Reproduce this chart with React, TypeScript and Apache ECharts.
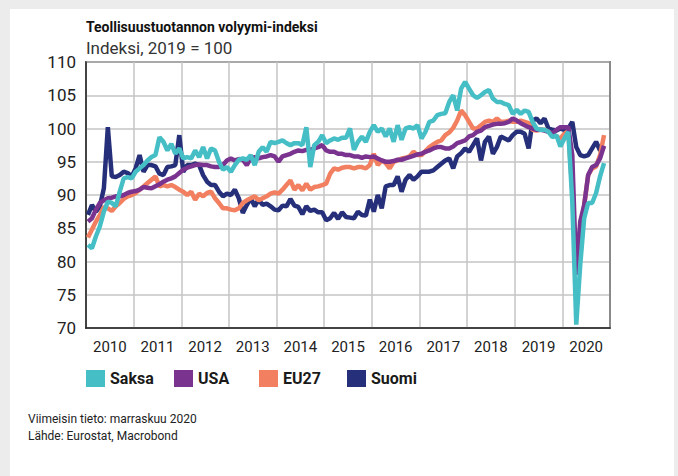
import React, { useEffect, useRef } from "react";
import * as echarts from "echarts";

const yearLabels = ["2010", "2011", "2012", "2013", "2014", "2015", "2016", "2017", "2018", "2019", "2020"];
const seriesNames = ["Saksa", "USA", "EU27", "Suomi"];

// Monthly index values, Jan 2010 .. Nov 2020 (2019 = 100)
const saksa = [
  82.5, 82, 83.8, 85.3, 87.5, 89, 88.8, 88.3, 90.5, 92.5, 92.7, 92.5,
  93.5, 94, 94.5, 95.2, 95.7, 96, 98.7, 98, 96.7, 97.7, 96.2, 97,
  95.5, 95.7, 95.5, 96.7, 95.7, 97.2, 95.5, 97, 96.7, 95, 93.8, 94.2,
  93.5, 94.5, 95.3, 95.5, 95.3, 96, 94.5, 96.5, 97.2, 96.5, 98, 97.8,
  98, 98.2, 97.8, 97.5, 97.8, 97.8, 97.5, 100.2, 94.2, 97.5, 98, 99,
  97.8, 98.2, 98.5, 98.3, 98.6, 98.6, 100, 96.8, 98, 98.8, 98, 99.5,
  100.5, 99.5, 100, 98.8, 100, 98, 100.5, 98.3, 100, 100.2, 100, 100.5,
  98.5, 99.5, 101, 101.2, 102, 102.2, 102.3, 104, 105, 102.7, 106, 107,
  106, 105, 104.6, 105, 105.5, 105.8, 104.5, 104, 104, 103.7, 103.5, 102.2,
  102.8, 102.2, 102.7, 102.5, 101, 100, 99.8, 99.8, 99.5, 98.7, 99, 97.3,
  98.5, 99.5, 89, 70.5, 79.5, 86.5, 88.8, 88.8, 90.3, 92.8, 94.8,
];

const usa = [
  86, 86.5, 87.8, 88.8, 89.2, 89.5, 89.6, 89.8, 89.8, 90, 90.3, 90.5,
  90.6, 90.8, 91.2, 91.1, 91, 91.3, 91.6, 92, 92.3, 92.5, 92.8, 93.3,
  93.8, 94.1, 94.3, 94.5, 94.6, 94.5, 94.5, 94.3, 94.2, 94.2, 94.5, 95.2,
  95.5, 95.2, 95.4, 95.3, 94.5, 95.5, 95.7, 95.5, 95.7, 95.8, 96, 95.8,
  95, 95.8, 96, 96.2, 96.5, 96.7, 96.6, 96.8, 96.8, 97, 97.2, 97.5,
  96.7, 96.5, 96.5, 96.2, 96.2, 96, 96, 95.8, 95.8, 95.6, 95.8, 95.7,
  95.8, 95.5, 95.2, 95, 95, 95.1, 95.3, 95.3, 95.5, 95.7, 95.9, 96.1,
  96.2, 96.5, 96.7, 97, 97.2, 97.2, 97, 97, 97.3, 97.8, 98, 98.2,
  98.8, 99, 99.5, 99.7, 100.2, 100.4, 100.6, 100.7, 100.7, 100.8, 101, 101.5,
  101.2, 100.8, 100.5, 100.2, 100, 99.8, 99.8, 99.7, 99.5, 99.2, 99.8, 100.2,
  100.2, 100.2, 96, 78, 86, 88.5, 93, 94.2, 94.5, 95.5, 97.4,
];

const eu27 = [
  83.6, 84.8, 86, 87, 88.2, 88, 87.6, 88.3, 88.8, 89.4, 89.8, 90,
  90.3, 90.8, 91.3, 91.8, 92.3, 92.8, 91.3, 91.5, 91.3, 91.5, 91.2, 90.8,
  90.5, 90, 90.5, 89.3, 90.2, 89.8, 90.3, 90.5, 89.5, 88.8, 88, 88,
  87.8, 87.7, 88, 88.8, 89.2, 89.5, 89.8, 89.2, 89.5, 89.8, 90.2, 90.4,
  90.2, 90.8, 91.5, 92.2, 90.8, 91.5, 90.7, 91.7, 90.8, 91.2, 91.3, 91.5,
  91.7, 93.2, 94, 93.8, 94.1, 94.2, 94.2, 94, 94.2, 94.2, 94, 94.5,
  96.2, 94.5, 95.2, 94.8, 94, 95, 95.2, 95.5, 95.6, 95.8, 96.5, 96,
  96, 96.6, 97.2, 97.6, 98, 98.2, 99, 99.4, 100.1, 101.2, 102.7, 102,
  101, 100, 100, 100.5, 101, 101.2, 101, 101.5, 101, 101, 101.2, 101,
  101, 101.2, 101, 100.8, 99.8, 99.7, 99.8, 99.8, 99.5, 99.2, 98.8, 98.5,
  99.2, 99.6, 90.5, 78.8, 83, 88.5, 93, 94, 94.3, 96, 99,
];

const suomi = [
  87, 88.5, 87.5, 88.3, 91, 100.2, 92.8, 92.7, 93, 93.5, 93.3, 92.8,
  94, 96, 93.5, 94.5, 94.5, 94.3, 93.2, 93, 94.2, 94.3, 94.5, 99,
  93.5, 94.5, 94.5, 94.7, 94.5, 93, 92, 91.5, 91.5, 90.5, 89.8, 90.2,
  90, 90.8, 89.5, 87.3, 88.5, 89.5, 88.3, 89.3, 88.5, 88.7, 88.3, 87.8,
  87.7, 88.4, 88.3, 89.4, 88.4, 88.2, 87.1, 88.3, 87.6, 87.8, 87.4, 87.4,
  86.2, 86.5, 87.3, 86.4, 87.4, 86.7, 86.6, 86.5, 87.5, 87, 86.9, 89.3,
  87.5, 90, 88, 91.3, 91.5, 91.5, 92.8, 90.5, 92.3, 93, 92.3, 92.8,
  93.5, 93.5, 93.5, 93.7, 94.2, 94.7, 95.2, 95.5, 94, 95.8, 96.3, 97,
  96.5, 97.5, 98.5, 95.2, 98, 98.8, 96.2, 97.2, 98.8, 98.5, 98.2, 99,
  99.5, 99.5, 99.2, 97, 101.2, 101.5, 100.8, 101.5, 100, 99.8, 99.7, 100,
  99.8, 100, 101, 97.2, 96, 95.8, 96, 97, 98, 96.7, 97.3,
];

const colors: Record<string, string> = {
  Saksa: "#46bec6",
  USA: "#7a3490",
  EU27: "#f17f60",
  Suomi: "#262f7a",
};

const START_YEAR = 2010;
const END_YEAR = 2021;

function toPoints(values: number[]) {
  return values.map((v, i) => [START_YEAR + (i + 0.5) / 12, v]);
}

const FONT = "Roboto, 'Noto Sans', sans-serif";

export default function App() {
  const ref = useRef<HTMLDivElement>(null);

  useEffect(() => {
    document.body.style.margin = "0";
    const chart = echarts.init(ref.current!, null, { renderer: "svg" });

    const dataByName: Record<string, number[]> = { Saksa: saksa, USA: usa, EU27: eu27, Suomi: suomi };
    // draw order: Suomi bottom, Saksa top
    const drawOrder = ["Suomi", "EU27", "USA", "Saksa"];

    const legendLeft = [86, 174, 259, 347];

    chart.setOption({
      animation: false,
      backgroundColor: "transparent",
      textStyle: { fontFamily: FONT },
      grid: {
        left: 86,
        top: 62,
        right: 68,
        bottom: 148,
        show: true,
        borderColor: "#222",
        borderWidth: 1.5,
        backgroundColor: "transparent",
      },
      xAxis: [
        {
          type: "value",
          min: START_YEAR,
          max: END_YEAR,
          interval: 1,
          axisLabel: { show: false },
          axisTick: { show: false },
          axisLine: { show: true, lineStyle: { color: "#222", width: 1.5 } },
          splitLine: { show: true, lineStyle: { color: "#c4c4c4", width: 1.5 } },
        },
        {
          type: "category",
          data: yearLabels,
          boundaryGap: true,
          position: "bottom",
          axisLine: { show: false },
          axisTick: { show: false },
          splitLine: { show: false },
          axisLabel: { fontSize: 15, color: "#222", margin: 11, fontFamily: FONT },
        },
      ],
      yAxis: [
        {
          type: "value",
          min: 70,
          max: 110,
          interval: 5,
          axisLine: { show: true, lineStyle: { color: "#222", width: 1.5 } },
          axisTick: { show: false },
          splitLine: { show: true, lineStyle: { color: "#c4c4c4", width: 1.5 } },
          axisLabel: { fontSize: 17, color: "#222", margin: 10, fontFamily: FONT },
        },
        {
          type: "value",
          min: 70,
          max: 110,
          interval: 5,
          position: "right",
          axisLine: { show: true, lineStyle: { color: "#8a8a8a", width: 2 } },
          axisTick: { show: false },
          axisLabel: { show: false },
          splitLine: { show: false },
        },
      ],
      legend: seriesNames.map((name, i) => ({
        data: [name],
        left: legendLeft[i],
        top: 370,
        padding: 0,
        icon: "rect",
        itemWidth: 19,
        itemHeight: 17,
        selectedMode: false,
        textStyle: { fontSize: 16, fontWeight: "bold", color: "#1a1a1a", fontFamily: FONT },
      })),
      series: drawOrder.map((name) => ({
        name,
        type: "line",
        xAxisIndex: 0,
        yAxisIndex: 0,
        data: toPoints(dataByName[name]),
        showSymbol: false,
        symbol: "none",
        color: colors[name],
        lineStyle: { width: 4.5, color: colors[name] },
      })),
      graphic: [
        {
          type: "text",
          left: 86,
          top: 20,
          style: {
            text: "Teollisuustuotannon volyymi-indeksi",
            font: `bold 14px ${FONT}`,
            fill: "#111",
          },
        },
        {
          type: "text",
          left: 86,
          top: 39,
          style: {
            text: "Indeksi, 2019 = 100",
            font: `17px ${FONT}`,
            fill: "#333",
          },
        },
        {
          type: "text",
          left: 28,
          top: 413,
          style: {
            text: "Viimeisin tieto: marraskuu 2020",
            font: `12px ${FONT}`,
            fill: "#222",
          },
        },
        {
          type: "text",
          left: 28,
          top: 430,
          style: {
            text: "Lähde: Eurostat, Macrobond",
            font: `12px ${FONT}`,
            fill: "#222",
          },
        },
      ],
    });

    return () => chart.dispose();
  }, []);

  return (
    <div style={{ position: "relative", width: 678, height: 476, background: "#ececec", overflow: "hidden" }}>
      <div style={{ position: "absolute", left: 10, top: 9, width: 664, height: 467, background: "#ffffff" }} />
      <div ref={ref} style={{ position: "absolute", left: 0, top: 0, width: 678, height: 476 }} />
    </div>
  );
}
